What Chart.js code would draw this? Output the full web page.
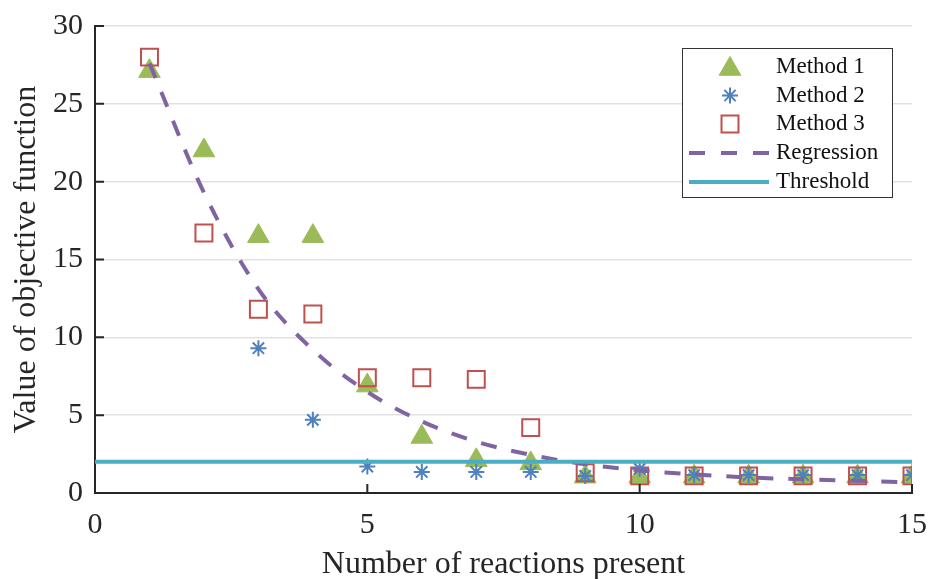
<!DOCTYPE html>
<html>
<head>
<meta charset="utf-8">
<script src="https://cdn.jsdelivr.net/npm/chart.js@4/dist/chart.umd.min.js"></script>
<style>
  html, body { margin: 0; padding: 0; background: #ffffff; }
  #wrap { width: 930px; height: 579px; }
</style>
</head>
<body>
<div id="wrap"><canvas id="c" width="930" height="579"></canvas></div>
<script>
// ---- data ----
const xValues = [1, 2, 3, 4, 5, 6, 7, 8, 9, 10, 11, 12, 13, 14, 15];
const method1 = [27.1, 22.0, 16.5, 16.5, 6.9, 3.6, 2.1, 1.9, 1.05, 1.05, 1.05, 1.05, 1.05, 1.05, 1.05];
const method2X = [3, 4, 5, 6, 7, 8, 9, 10, 11, 12, 13, 14, 15];
const method2 = [9.3, 4.7, 1.7, 1.35, 1.35, 1.35, 1.1, 1.55, 1.15, 1.15, 1.15, 1.15, 1.15];
const method3 = [28.0, 16.7, 11.8, 11.5, 7.4, 7.4, 7.3, 4.2, 1.3, 1.1, 1.1, 1.1, 1.1, 1.1, 1.1];
const regression = [27.6, 19.3, 13.1, 9.2, 6.5, 4.6, 3.3, 2.45, 1.85, 1.45, 1.2, 1.0, 0.88, 0.78, 0.68];
const thresholdX = [0, 15];
const threshold = [2, 2];
const xTicks = [0, 5, 10, 15];
const yTicks = [0, 5, 10, 15, 20, 25, 30];
const seriesNames = ['Method 1', 'Method 2', 'Method 3', 'Regression', 'Threshold'];
const axisTitles = { x: 'Number of reactions present', y: 'Value of objective function' };

const pts = (xs, ys) => xs.map((x, i) => ({ x: x, y: ys[i] }));

const FONT = '"Liberation Serif", "Times New Roman", serif';
const AXIS_COLOR = '#262626';
const C1 = '#9bbb59', C2 = '#4f81bd', C3 = '#c0504d', C4 = '#8064a2', C5 = '#4bacc6';

const inwardTicks = {
  id: 'inwardTicks',
  afterDraw(chart) {
    const ctx = chart.ctx, xs = chart.scales.x, ys = chart.scales.y, a = chart.chartArea;
    ctx.save();
    ctx.strokeStyle = AXIS_COLOR;
    ctx.lineWidth = 2;
    ctx.beginPath();
    yTicks.forEach(v => {
      const p = ys.getPixelForValue(v);
      ctx.moveTo(a.left, p); ctx.lineTo(a.left + 9, p);
    });
    xTicks.forEach(v => {
      const p = xs.getPixelForValue(v);
      ctx.moveTo(p, a.bottom); ctx.lineTo(p, a.bottom - 9);
    });
    ctx.stroke();
    ctx.restore();
  }
};

const boxLegend = {
  id: 'boxLegend',
  afterDraw(chart) {
    const ctx = chart.ctx;
    const left = 682, top = 48, w = 210, h = 149;
    ctx.save();
    ctx.fillStyle = '#ffffff';
    ctx.fillRect(left, top, w, h);
    ctx.strokeStyle = '#333333';
    ctx.lineWidth = 1;
    ctx.strokeRect(left + 0.5, top + 0.5, w, h);
    const rows = [67, 95.5, 124, 153, 182];
    const mx = 730, lx0 = 689, lx1 = 769, tx = 776;
    const H = Chart.helpers;
    ctx.fillStyle = C1; ctx.strokeStyle = C1; ctx.lineWidth = 1;
    H.drawPoint(ctx, { pointStyle: 'triangle', radius: 12.5, rotation: 0, borderWidth: 1 }, mx, rows[0] + 2);
    ctx.fillStyle = C2; ctx.strokeStyle = C2; ctx.lineWidth = 2;
    H.drawPoint(ctx, { pointStyle: 'star', radius: 8, rotation: 0, borderWidth: 2 }, mx, rows[1]);
    ctx.fillStyle = 'rgba(0,0,0,0)'; ctx.strokeStyle = C3; ctx.lineWidth = 2;
    H.drawPoint(ctx, { pointStyle: 'rect', radius: 12, rotation: 0, borderWidth: 2 }, mx, rows[2]);
    ctx.strokeStyle = C4; ctx.lineWidth = 4; ctx.setLineDash([16, 16]);
    ctx.beginPath(); ctx.moveTo(lx0, rows[3]); ctx.lineTo(lx1, rows[3]); ctx.stroke();
    ctx.setLineDash([]);
    ctx.strokeStyle = C5; ctx.lineWidth = 4;
    ctx.beginPath(); ctx.moveTo(lx0, rows[4]); ctx.lineTo(lx1, rows[4]); ctx.stroke();
    ctx.fillStyle = '#111111';
    ctx.font = '23px ' + FONT;
    ctx.textAlign = 'left';
    ctx.textBaseline = 'middle';
    seriesNames.forEach((n, i) => ctx.fillText(n, tx, rows[i]));
    ctx.restore();
  }
};

new Chart(document.getElementById('c'), {
  type: 'line',
  data: {
    datasets: [
      {
        label: seriesNames[4], data: pts(thresholdX, threshold), order: 1,
        borderColor: C5, borderWidth: 4, pointRadius: 0, showLine: true, fill: false
      },
      {
        label: seriesNames[3], data: pts(xValues, regression), order: 2,
        borderColor: C4, borderWidth: 4, borderDash: [16, 15], pointRadius: 0,
        showLine: true, fill: false, cubicInterpolationMode: 'monotone'
      },
      {
        label: seriesNames[1], data: pts(method2X, method2), order: 3, showLine: false,
        pointStyle: 'star', pointRadius: 8, pointBorderWidth: 2,
        pointBorderColor: C2, pointBackgroundColor: C2, borderColor: C2
      },
      {
        label: seriesNames[2], data: pts(xValues, method3), order: 4, showLine: false,
        pointStyle: 'rect', pointRadius: 12, pointBorderWidth: 2,
        pointBorderColor: C3, pointBackgroundColor: 'rgba(0,0,0,0)', borderColor: C3
      },
      {
        label: seriesNames[0], data: pts(xValues, method1), order: 5, showLine: false,
        pointStyle: 'triangle', pointRadius: 12.5, pointBorderWidth: 1,
        pointBorderColor: C1, pointBackgroundColor: C1, borderColor: C1
      }
    ]
  },
  options: {
    responsive: false,
    animation: false,
    layout: { padding: { top: 26, right: 18, left: 0, bottom: 0 } },
    plugins: {
      legend: { display: false },
      tooltip: { enabled: false }
    },
    scales: {
      x: {
        type: 'linear', min: 0, max: 15,
        afterFit: s => { s.height = 86; s.paddingLeft = 0; s.paddingRight = 0; },
        afterBuildTicks: s => { s.ticks = xTicks.map(v => ({ value: v })); },
        ticks: { font: { family: FONT, size: 30 }, color: AXIS_COLOR, padding: 14, maxRotation: 0 },
        grid: { display: false, drawTicks: false },
        border: { display: true, color: AXIS_COLOR, width: 2 },
        title: {
          display: true, text: axisTitles.x, color: AXIS_COLOR,
          font: { family: FONT, size: 32, lineHeight: 0.75 }, padding: { top: 0, bottom: 2 }
        }
      },
      y: {
        type: 'linear', min: 0, max: 30,
        afterFit: s => { s.width = 95; s.paddingTop = 0; s.paddingBottom = 0; },
        afterBuildTicks: s => { s.ticks = yTicks.map(v => ({ value: v })); },
        ticks: { font: { family: FONT, size: 30 }, color: AXIS_COLOR, padding: 12 },
        grid: { color: '#e2e2e2', lineWidth: 1.5, drawTicks: false },
        border: { display: true, color: AXIS_COLOR, width: 2 },
        title: {
          display: true, text: axisTitles.y, color: AXIS_COLOR,
          font: { family: FONT, size: 32, lineHeight: 1.2 }, padding: { top: 7, bottom: 0 }
        }
      }
    }
  },
  plugins: [inwardTicks, boxLegend]
});
</script>
</body>
</html>
